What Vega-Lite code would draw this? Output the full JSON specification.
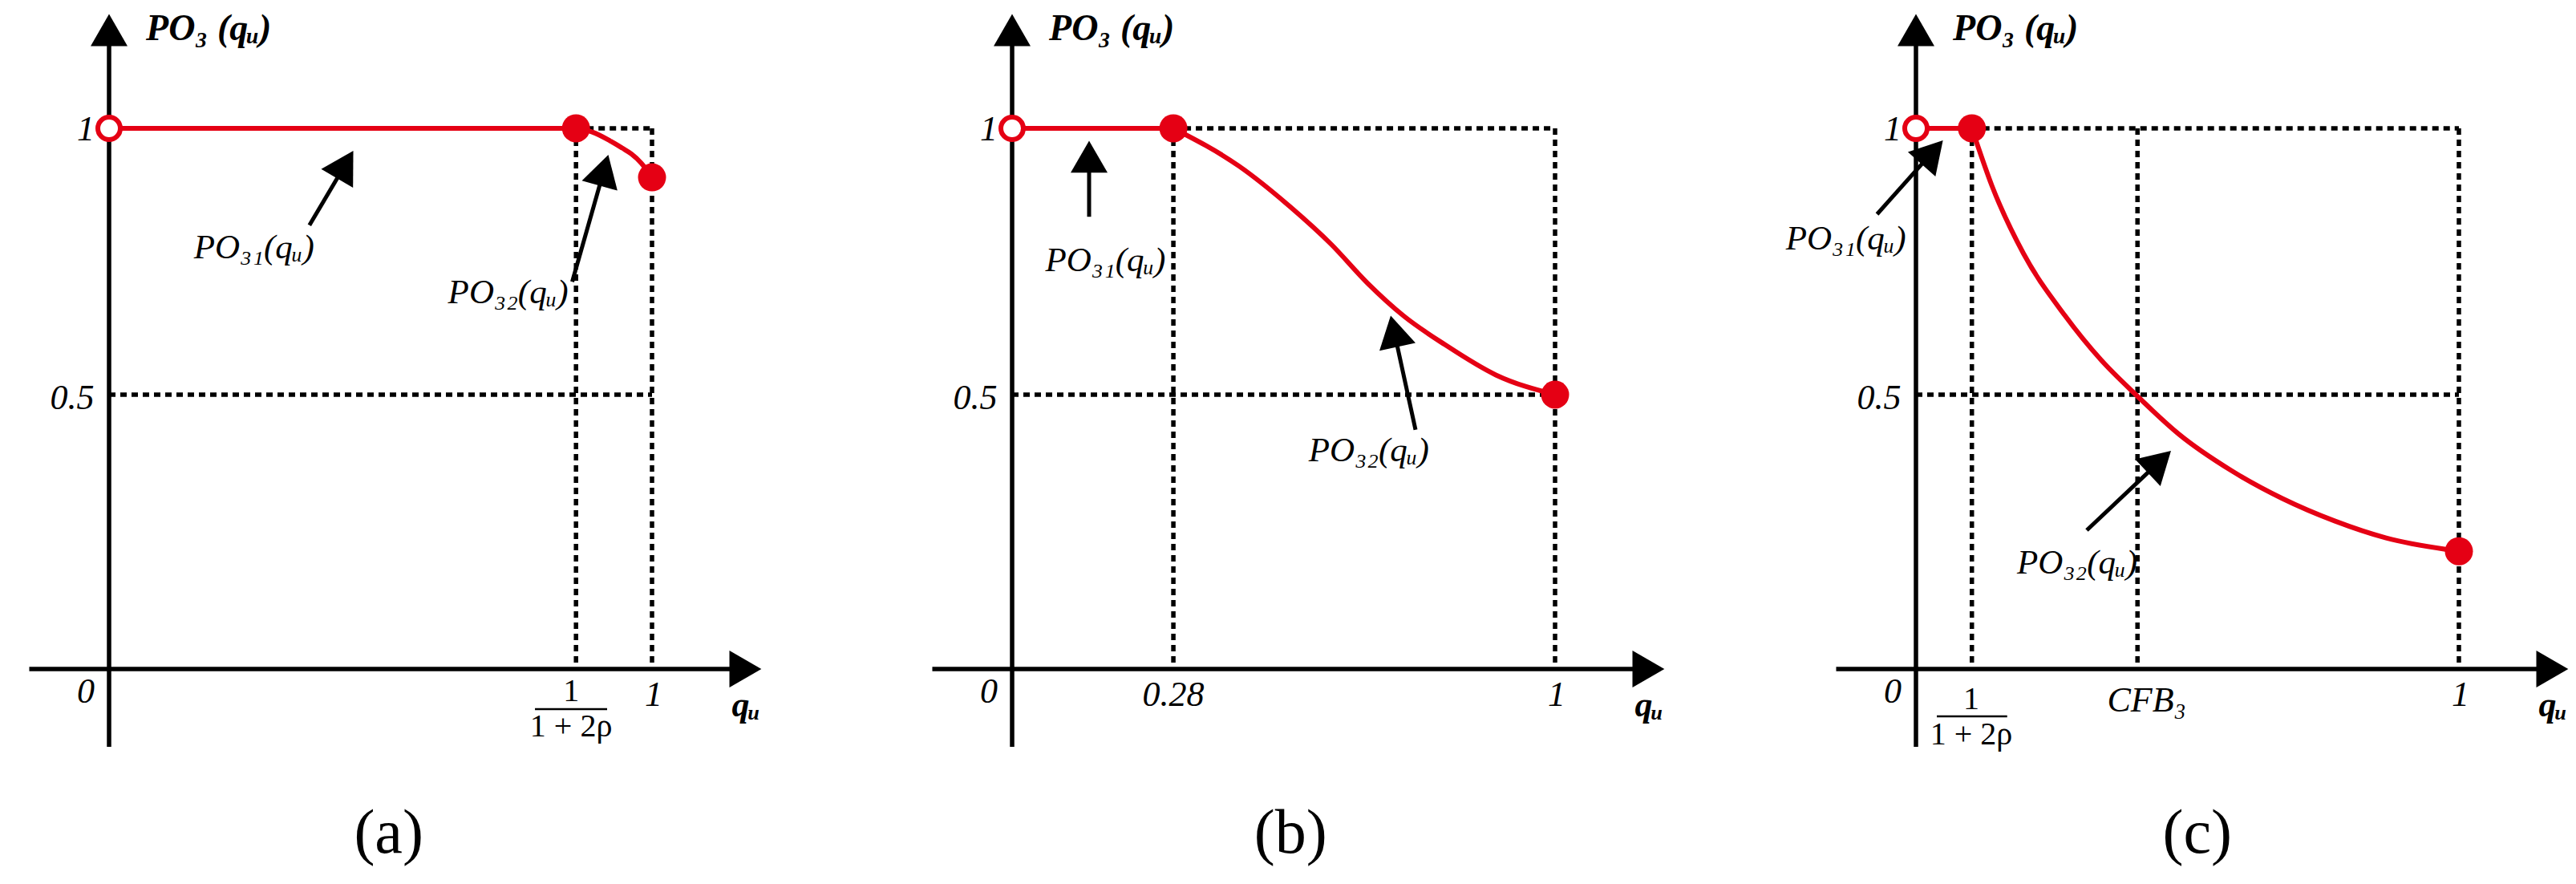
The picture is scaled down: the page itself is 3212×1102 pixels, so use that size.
{
  "$schema": "https://vega.github.io/schema/vega-lite/v6.json",
  "padding": 0,
  "spacing": 0,
  "bounds": "flush",
  "background": "white",
  "config": {"view": {"stroke": null}},
  "datasets": {
    "axes": [
      {"x": 0, "y": -0.161, "x2": 0, "y2": 1.16},
      {"x": -0.147, "y": -0.015, "x2": 1.145, "y2": -0.015}
    ],
    "heads": [
      {"p": "all", "x": 0, "y": 1.1845, "angle": 0},
      {"p": "all", "x": 1.172, "y": -0.015, "angle": 90},
      {"p": "a", "x": 0.4349, "y": 0.9319, "angle": 30.4},
      {"p": "a", "x": 0.9115, "y": 0.9214, "angle": 15.7},
      {"p": "b", "x": 0.1418, "y": 0.9467, "angle": 0},
      {"p": "b", "x": 0.7035, "y": 0.6191, "angle": -12.3},
      {"p": "c", "x": 0.0301, "y": 0.9551, "angle": 41.7},
      {"p": "c", "x": 0.4483, "y": 0.374, "angle": 46.7}
    ],
    "shafts": [
      {"p": "a", "x": 0.369, "y": 0.818, "x2": 0.435, "y2": 0.932},
      {"p": "a", "x": 0.853, "y": 0.712, "x2": 0.9115, "y2": 0.9214},
      {"p": "b", "x": 0.1418, "y": 0.834, "x2": 0.1418, "y2": 0.9467},
      {"p": "b", "x": 0.743, "y": 0.434, "x2": 0.7035, "y2": 0.6191},
      {"p": "c", "x": -0.0716, "y": 0.8389, "x2": 0.0301, "y2": 0.9551},
      {"p": "c", "x": 0.3146, "y": 0.2455, "x2": 0.4483, "y2": 0.374}
    ],
    "bars": [
      {"p": "a", "x": 0.7844, "y": -0.0904, "x2": 0.9173, "y2": -0.0904},
      {"p": "c", "x": 0.0384, "y": -0.104, "x2": 0.168, "y2": -0.104}
    ],
    "dashes": [
      {"p": "a", "x": 0.86, "y": 1, "x2": 0.86, "y2": -0.012},
      {"p": "a", "x": 1, "y": 1, "x2": 1, "y2": -0.012},
      {"p": "a", "x": 0.86, "y": 1, "x2": 1, "y2": 1},
      {"p": "a", "x": 0, "y": 0.5, "x2": 1, "y2": 0.5},
      {"p": "b", "x": 0.297, "y": 1, "x2": 0.297, "y2": -0.012},
      {"p": "b", "x": 1, "y": 1, "x2": 1, "y2": -0.012},
      {"p": "b", "x": 0.297, "y": 1, "x2": 1, "y2": 1},
      {"p": "b", "x": 0, "y": 0.5, "x2": 1, "y2": 0.5},
      {"p": "c", "x": 0.103, "y": 1, "x2": 0.103, "y2": -0.012},
      {"p": "c", "x": 0.408, "y": 1, "x2": 0.408, "y2": -0.012},
      {"p": "c", "x": 1, "y": 1, "x2": 1, "y2": -0.012},
      {"p": "c", "x": 0.103, "y": 1, "x2": 1, "y2": 1},
      {"p": "c", "x": 0, "y": 0.5, "x2": 1, "y2": 0.5}
    ],
    "curve": [
      {"p": "a", "seg": "flat", "x": 0, "y": 1},
      {"p": "a", "seg": "flat", "x": 0.86, "y": 1},
      {"p": "a", "seg": "drop", "x": 0.86, "y": 1},
      {"p": "a", "seg": "drop", "x": 0.89, "y": 0.993},
      {"p": "a", "seg": "drop", "x": 0.922, "y": 0.977},
      {"p": "a", "seg": "drop", "x": 0.945, "y": 0.963},
      {"p": "a", "seg": "drop", "x": 0.962, "y": 0.952},
      {"p": "a", "seg": "drop", "x": 0.98, "y": 0.935},
      {"p": "a", "seg": "drop", "x": 1, "y": 0.908},
      {"p": "b", "seg": "flat", "x": 0, "y": 1},
      {"p": "b", "seg": "flat", "x": 0.297, "y": 1},
      {"p": "b", "seg": "drop", "x": 0.297, "y": 1},
      {"p": "b", "seg": "drop", "x": 0.418, "y": 0.929},
      {"p": "b", "seg": "drop", "x": 0.513, "y": 0.852},
      {"p": "b", "seg": "drop", "x": 0.588, "y": 0.782},
      {"p": "b", "seg": "drop", "x": 0.654, "y": 0.71},
      {"p": "b", "seg": "drop", "x": 0.721, "y": 0.648},
      {"p": "b", "seg": "drop", "x": 0.797, "y": 0.594},
      {"p": "b", "seg": "drop", "x": 0.891, "y": 0.537},
      {"p": "b", "seg": "drop", "x": 1, "y": 0.5},
      {"p": "c", "seg": "flat", "x": 0, "y": 1},
      {"p": "c", "seg": "flat", "x": 0.103, "y": 1},
      {"p": "c", "seg": "drop", "x": 0.103, "y": 1},
      {"p": "c", "seg": "drop", "x": 0.14, "y": 0.892},
      {"p": "c", "seg": "drop", "x": 0.198, "y": 0.765},
      {"p": "c", "seg": "drop", "x": 0.274, "y": 0.649},
      {"p": "c", "seg": "drop", "x": 0.341, "y": 0.565},
      {"p": "c", "seg": "drop", "x": 0.408, "y": 0.497},
      {"p": "c", "seg": "drop", "x": 0.484, "y": 0.426},
      {"p": "c", "seg": "drop", "x": 0.58, "y": 0.358},
      {"p": "c", "seg": "drop", "x": 0.675, "y": 0.305},
      {"p": "c", "seg": "drop", "x": 0.771, "y": 0.263},
      {"p": "c", "seg": "drop", "x": 0.866, "y": 0.231},
      {"p": "c", "seg": "drop", "x": 1, "y": 0.206}
    ],
    "dots": [
      {"p": "a", "kind": "open", "x": 0, "y": 1},
      {"p": "a", "kind": "filled", "x": 0.86, "y": 1},
      {"p": "a", "kind": "filled", "x": 1, "y": 0.908},
      {"p": "b", "kind": "open", "x": 0, "y": 1},
      {"p": "b", "kind": "filled", "x": 0.297, "y": 1},
      {"p": "b", "kind": "filled", "x": 1, "y": 0.5},
      {"p": "c", "kind": "open", "x": 0, "y": 1},
      {"p": "c", "kind": "filled", "x": 0.103, "y": 1},
      {"p": "c", "kind": "filled", "x": 1, "y": 0.206}
    ],
    "labels": [
      {"p": "all", "style": "tick", "x": -0.043, "y": 0.997, "text": "1"},
      {"p": "all", "style": "tick", "x": -0.068, "y": 0.4925, "text": "0.5"},
      {"p": "all", "style": "tick", "x": -0.043, "y": -0.0587, "text": "0"},
      {"p": "all", "style": "tick", "x": 1.003, "y": -0.065, "text": "1"},
      {"p": "all", "style": "qu", "x": 1.173, "y": -0.084, "text": "qᵤ"},
      {"p": "all", "style": "title", "x": 0.068, "y": 1.166, "text": "PO₃ (qᵤ)"},
      {"p": "a", "style": "frac", "x": 0.851, "y": -0.0572, "text": "1"},
      {"p": "a", "style": "frac", "x": 0.851, "y": -0.124, "text": "1 + 2ρ"},
      {"p": "a", "style": "ann", "x": 0.267, "y": 0.776, "text": "PO₃₁(qᵤ)"},
      {"p": "a", "style": "ann", "x": 0.735, "y": 0.691, "text": "PO₃₂(qᵤ)"},
      {"p": "a", "style": "panel", "x": 0.515, "y": -0.3253, "text": "(a)"},
      {"p": "b", "style": "tick", "x": 0.297, "y": -0.065, "text": "0.28"},
      {"p": "b", "style": "ann", "x": 0.172, "y": 0.751, "text": "PO₃₁(qᵤ)"},
      {"p": "b", "style": "ann", "x": 0.657, "y": 0.395, "text": "PO₃₂(qᵤ)"},
      {"p": "b", "style": "panel", "x": 0.513, "y": -0.3253, "text": "(b)"},
      {"p": "c", "style": "frac", "x": 0.102, "y": -0.0723, "text": "1"},
      {"p": "c", "style": "frac", "x": 0.102, "y": -0.139, "text": "1 + 2ρ"},
      {"p": "c", "style": "tick", "x": 0.425, "y": -0.0753, "text": "CFB₃"},
      {"p": "c", "style": "ann", "x": -0.129, "y": 0.792, "text": "PO₃₁(qᵤ)"},
      {"p": "c", "style": "ann", "x": 0.297, "y": 0.184, "text": "PO₃₂(qᵤ)"},
      {"p": "c", "style": "panel", "x": 0.518, "y": -0.3253, "text": "(c)"}
    ]
  },
  "hconcat": [
    {
      "width": 1126,
      "height": 1102,
      "encoding": {
        "x": {"field": "x", "type": "quantitative", "scale": {"domain": [-0.20089, 1.46233], "nice": false, "zero": false}, "axis": null},
        "y": {"field": "y", "type": "quantitative", "scale": {"domain": [-0.41867, 1.24096], "nice": false, "zero": false}, "axis": null}
      },
      "layer": [
        {"data": {"name": "dashes"}, "transform": [{"filter": "datum.p == 'a'"}], "mark": {"type": "rule", "strokeDash": [8, 6], "strokeWidth": 5.5, "color": "black"}, "encoding": {"x2": {"field": "x2"}, "y2": {"field": "y2"}}},
        {"data": {"name": "axes"}, "mark": {"type": "rule", "strokeWidth": 5.5, "color": "black"}, "encoding": {"x2": {"field": "x2"}, "y2": {"field": "y2"}}},
        {"data": {"name": "bars"}, "transform": [{"filter": "datum.p == 'a'"}], "mark": {"type": "rule", "strokeWidth": 2.5, "color": "black"}, "encoding": {"x2": {"field": "x2"}, "y2": {"field": "y2"}}},
        {"data": {"name": "shafts"}, "transform": [{"filter": "datum.p == 'a'"}], "mark": {"type": "rule", "strokeWidth": 5, "color": "black"}, "encoding": {"x2": {"field": "x2"}, "y2": {"field": "y2"}}},
        {"data": {"name": "heads"}, "transform": [{"filter": "datum.p == 'a' || datum.p == 'all'"}], "mark": {"type": "point", "shape": "triangle-up", "filled": true, "color": "black", "size": 2116, "opacity": 1}, "encoding": {"angle": {"field": "angle", "type": "quantitative", "scale": null}}},
        {"data": {"name": "curve"}, "transform": [{"filter": "datum.p == 'a'"}], "mark": {"type": "line", "color": "#E50014", "strokeWidth": 6, "interpolate": "monotone"}, "encoding": {"detail": {"field": "seg"}}},
        {"data": {"name": "dots"}, "transform": [{"filter": "datum.p == 'a' && datum.kind == 'filled'"}], "mark": {"type": "point", "shape": "circle", "filled": true, "color": "#E50014", "size": 1225, "opacity": 1}},
        {"data": {"name": "dots"}, "transform": [{"filter": "datum.p == 'a' && datum.kind == 'open'"}], "mark": {"type": "point", "shape": "circle", "filled": true, "fill": "white", "stroke": "#E50014", "strokeWidth": 6, "size": 784, "opacity": 1}},
        {"data": {"name": "labels"}, "transform": [{"filter": "(datum.p == 'a' || datum.p == 'all') && datum.style == 'tick'"}], "mark": {"type": "text", "font": "Liberation Serif", "fontStyle": "italic", "fontSize": 44, "align": "center", "baseline": "middle"}, "encoding": {"text": {"field": "text"}}},
        {"data": {"name": "labels"}, "transform": [{"filter": "(datum.p == 'a' || datum.p == 'all') && datum.style == 'qu'"}], "mark": {"type": "text", "font": "Liberation Serif", "fontStyle": "italic", "fontWeight": "bold", "fontSize": 44, "align": "center", "baseline": "middle"}, "encoding": {"text": {"field": "text"}}},
        {"data": {"name": "labels"}, "transform": [{"filter": "(datum.p == 'a' || datum.p == 'all') && datum.style == 'title'"}], "mark": {"type": "text", "font": "Liberation Serif", "fontStyle": "italic", "fontWeight": "bold", "fontSize": 46, "align": "left", "baseline": "alphabetic"}, "encoding": {"text": {"field": "text"}}},
        {"data": {"name": "labels"}, "transform": [{"filter": "datum.p == 'a' && datum.style == 'ann'"}], "mark": {"type": "text", "font": "Liberation Serif", "fontStyle": "italic", "fontSize": 43, "align": "center", "baseline": "middle"}, "encoding": {"text": {"field": "text"}}},
        {"data": {"name": "labels"}, "transform": [{"filter": "datum.p == 'a' && datum.style == 'frac'"}], "mark": {"type": "text", "font": "Liberation Serif", "fontSize": 40, "align": "center", "baseline": "middle"}, "encoding": {"text": {"field": "text"}}},
        {"data": {"name": "labels"}, "transform": [{"filter": "datum.p == 'a' && datum.style == 'panel'"}], "mark": {"type": "text", "font": "Liberation Serif", "fontSize": 78, "align": "center", "baseline": "middle"}, "encoding": {"text": {"field": "text"}}}
      ]
    },
    {
      "width": 1127,
      "height": 1102,
      "encoding": {
        "x": {"field": "x", "type": "quantitative", "scale": {"domain": [-0.20089, 1.46381], "nice": false, "zero": false}, "axis": null},
        "y": {"field": "y", "type": "quantitative", "scale": {"domain": [-0.41867, 1.24096], "nice": false, "zero": false}, "axis": null}
      },
      "layer": [
        {"data": {"name": "dashes"}, "transform": [{"filter": "datum.p == 'b'"}], "mark": {"type": "rule", "strokeDash": [8, 6], "strokeWidth": 5.5, "color": "black"}, "encoding": {"x2": {"field": "x2"}, "y2": {"field": "y2"}}},
        {"data": {"name": "axes"}, "mark": {"type": "rule", "strokeWidth": 5.5, "color": "black"}, "encoding": {"x2": {"field": "x2"}, "y2": {"field": "y2"}}},
        {"data": {"name": "shafts"}, "transform": [{"filter": "datum.p == 'b'"}], "mark": {"type": "rule", "strokeWidth": 5, "color": "black"}, "encoding": {"x2": {"field": "x2"}, "y2": {"field": "y2"}}},
        {"data": {"name": "heads"}, "transform": [{"filter": "datum.p == 'b' || datum.p == 'all'"}], "mark": {"type": "point", "shape": "triangle-up", "filled": true, "color": "black", "size": 2116, "opacity": 1}, "encoding": {"angle": {"field": "angle", "type": "quantitative", "scale": null}}},
        {"data": {"name": "curve"}, "transform": [{"filter": "datum.p == 'b'"}], "mark": {"type": "line", "color": "#E50014", "strokeWidth": 6, "interpolate": "monotone"}, "encoding": {"detail": {"field": "seg"}}},
        {"data": {"name": "dots"}, "transform": [{"filter": "datum.p == 'b' && datum.kind == 'filled'"}], "mark": {"type": "point", "shape": "circle", "filled": true, "color": "#E50014", "size": 1225, "opacity": 1}},
        {"data": {"name": "dots"}, "transform": [{"filter": "datum.p == 'b' && datum.kind == 'open'"}], "mark": {"type": "point", "shape": "circle", "filled": true, "fill": "white", "stroke": "#E50014", "strokeWidth": 6, "size": 784, "opacity": 1}},
        {"data": {"name": "labels"}, "transform": [{"filter": "(datum.p == 'b' || datum.p == 'all') && datum.style == 'tick'"}], "mark": {"type": "text", "font": "Liberation Serif", "fontStyle": "italic", "fontSize": 44, "align": "center", "baseline": "middle"}, "encoding": {"text": {"field": "text"}}},
        {"data": {"name": "labels"}, "transform": [{"filter": "(datum.p == 'b' || datum.p == 'all') && datum.style == 'qu'"}], "mark": {"type": "text", "font": "Liberation Serif", "fontStyle": "italic", "fontWeight": "bold", "fontSize": 44, "align": "center", "baseline": "middle"}, "encoding": {"text": {"field": "text"}}},
        {"data": {"name": "labels"}, "transform": [{"filter": "(datum.p == 'b' || datum.p == 'all') && datum.style == 'title'"}], "mark": {"type": "text", "font": "Liberation Serif", "fontStyle": "italic", "fontWeight": "bold", "fontSize": 46, "align": "left", "baseline": "alphabetic"}, "encoding": {"text": {"field": "text"}}},
        {"data": {"name": "labels"}, "transform": [{"filter": "datum.p == 'b' && datum.style == 'ann'"}], "mark": {"type": "text", "font": "Liberation Serif", "fontStyle": "italic", "fontSize": 43, "align": "center", "baseline": "middle"}, "encoding": {"text": {"field": "text"}}},
        {"data": {"name": "labels"}, "transform": [{"filter": "datum.p == 'b' && datum.style == 'panel'"}], "mark": {"type": "text", "font": "Liberation Serif", "fontSize": 78, "align": "center", "baseline": "middle"}, "encoding": {"text": {"field": "text"}}}
      ]
    },
    {
      "width": 959,
      "height": 1102,
      "encoding": {
        "x": {"field": "x", "type": "quantitative", "scale": {"domain": [-0.20089, 1.21566], "nice": false, "zero": false}, "axis": null},
        "y": {"field": "y", "type": "quantitative", "scale": {"domain": [-0.41867, 1.24096], "nice": false, "zero": false}, "axis": null}
      },
      "layer": [
        {"data": {"name": "dashes"}, "transform": [{"filter": "datum.p == 'c'"}], "mark": {"type": "rule", "strokeDash": [8, 6], "strokeWidth": 5.5, "color": "black"}, "encoding": {"x2": {"field": "x2"}, "y2": {"field": "y2"}}},
        {"data": {"name": "axes"}, "mark": {"type": "rule", "strokeWidth": 5.5, "color": "black"}, "encoding": {"x2": {"field": "x2"}, "y2": {"field": "y2"}}},
        {"data": {"name": "bars"}, "transform": [{"filter": "datum.p == 'c'"}], "mark": {"type": "rule", "strokeWidth": 2.5, "color": "black"}, "encoding": {"x2": {"field": "x2"}, "y2": {"field": "y2"}}},
        {"data": {"name": "shafts"}, "transform": [{"filter": "datum.p == 'c'"}], "mark": {"type": "rule", "strokeWidth": 5, "color": "black"}, "encoding": {"x2": {"field": "x2"}, "y2": {"field": "y2"}}},
        {"data": {"name": "heads"}, "transform": [{"filter": "datum.p == 'c' || datum.p == 'all'"}], "mark": {"type": "point", "shape": "triangle-up", "filled": true, "color": "black", "size": 2116, "opacity": 1}, "encoding": {"angle": {"field": "angle", "type": "quantitative", "scale": null}}},
        {"data": {"name": "curve"}, "transform": [{"filter": "datum.p == 'c'"}], "mark": {"type": "line", "color": "#E50014", "strokeWidth": 6, "interpolate": "monotone"}, "encoding": {"detail": {"field": "seg"}}},
        {"data": {"name": "dots"}, "transform": [{"filter": "datum.p == 'c' && datum.kind == 'filled'"}], "mark": {"type": "point", "shape": "circle", "filled": true, "color": "#E50014", "size": 1225, "opacity": 1}},
        {"data": {"name": "dots"}, "transform": [{"filter": "datum.p == 'c' && datum.kind == 'open'"}], "mark": {"type": "point", "shape": "circle", "filled": true, "fill": "white", "stroke": "#E50014", "strokeWidth": 6, "size": 784, "opacity": 1}},
        {"data": {"name": "labels"}, "transform": [{"filter": "(datum.p == 'c' || datum.p == 'all') && datum.style == 'tick'"}], "mark": {"type": "text", "font": "Liberation Serif", "fontStyle": "italic", "fontSize": 44, "align": "center", "baseline": "middle"}, "encoding": {"text": {"field": "text"}}},
        {"data": {"name": "labels"}, "transform": [{"filter": "(datum.p == 'c' || datum.p == 'all') && datum.style == 'qu'"}], "mark": {"type": "text", "font": "Liberation Serif", "fontStyle": "italic", "fontWeight": "bold", "fontSize": 44, "align": "center", "baseline": "middle"}, "encoding": {"text": {"field": "text"}}},
        {"data": {"name": "labels"}, "transform": [{"filter": "(datum.p == 'c' || datum.p == 'all') && datum.style == 'title'"}], "mark": {"type": "text", "font": "Liberation Serif", "fontStyle": "italic", "fontWeight": "bold", "fontSize": 46, "align": "left", "baseline": "alphabetic"}, "encoding": {"text": {"field": "text"}}},
        {"data": {"name": "labels"}, "transform": [{"filter": "datum.p == 'c' && datum.style == 'ann'"}], "mark": {"type": "text", "font": "Liberation Serif", "fontStyle": "italic", "fontSize": 43, "align": "center", "baseline": "middle"}, "encoding": {"text": {"field": "text"}}},
        {"data": {"name": "labels"}, "transform": [{"filter": "datum.p == 'c' && datum.style == 'frac'"}], "mark": {"type": "text", "font": "Liberation Serif", "fontSize": 40, "align": "center", "baseline": "middle"}, "encoding": {"text": {"field": "text"}}},
        {"data": {"name": "labels"}, "transform": [{"filter": "datum.p == 'c' && datum.style == 'panel'"}], "mark": {"type": "text", "font": "Liberation Serif", "fontSize": 78, "align": "center", "baseline": "middle"}, "encoding": {"text": {"field": "text"}}}
      ]
    }
  ]
}
